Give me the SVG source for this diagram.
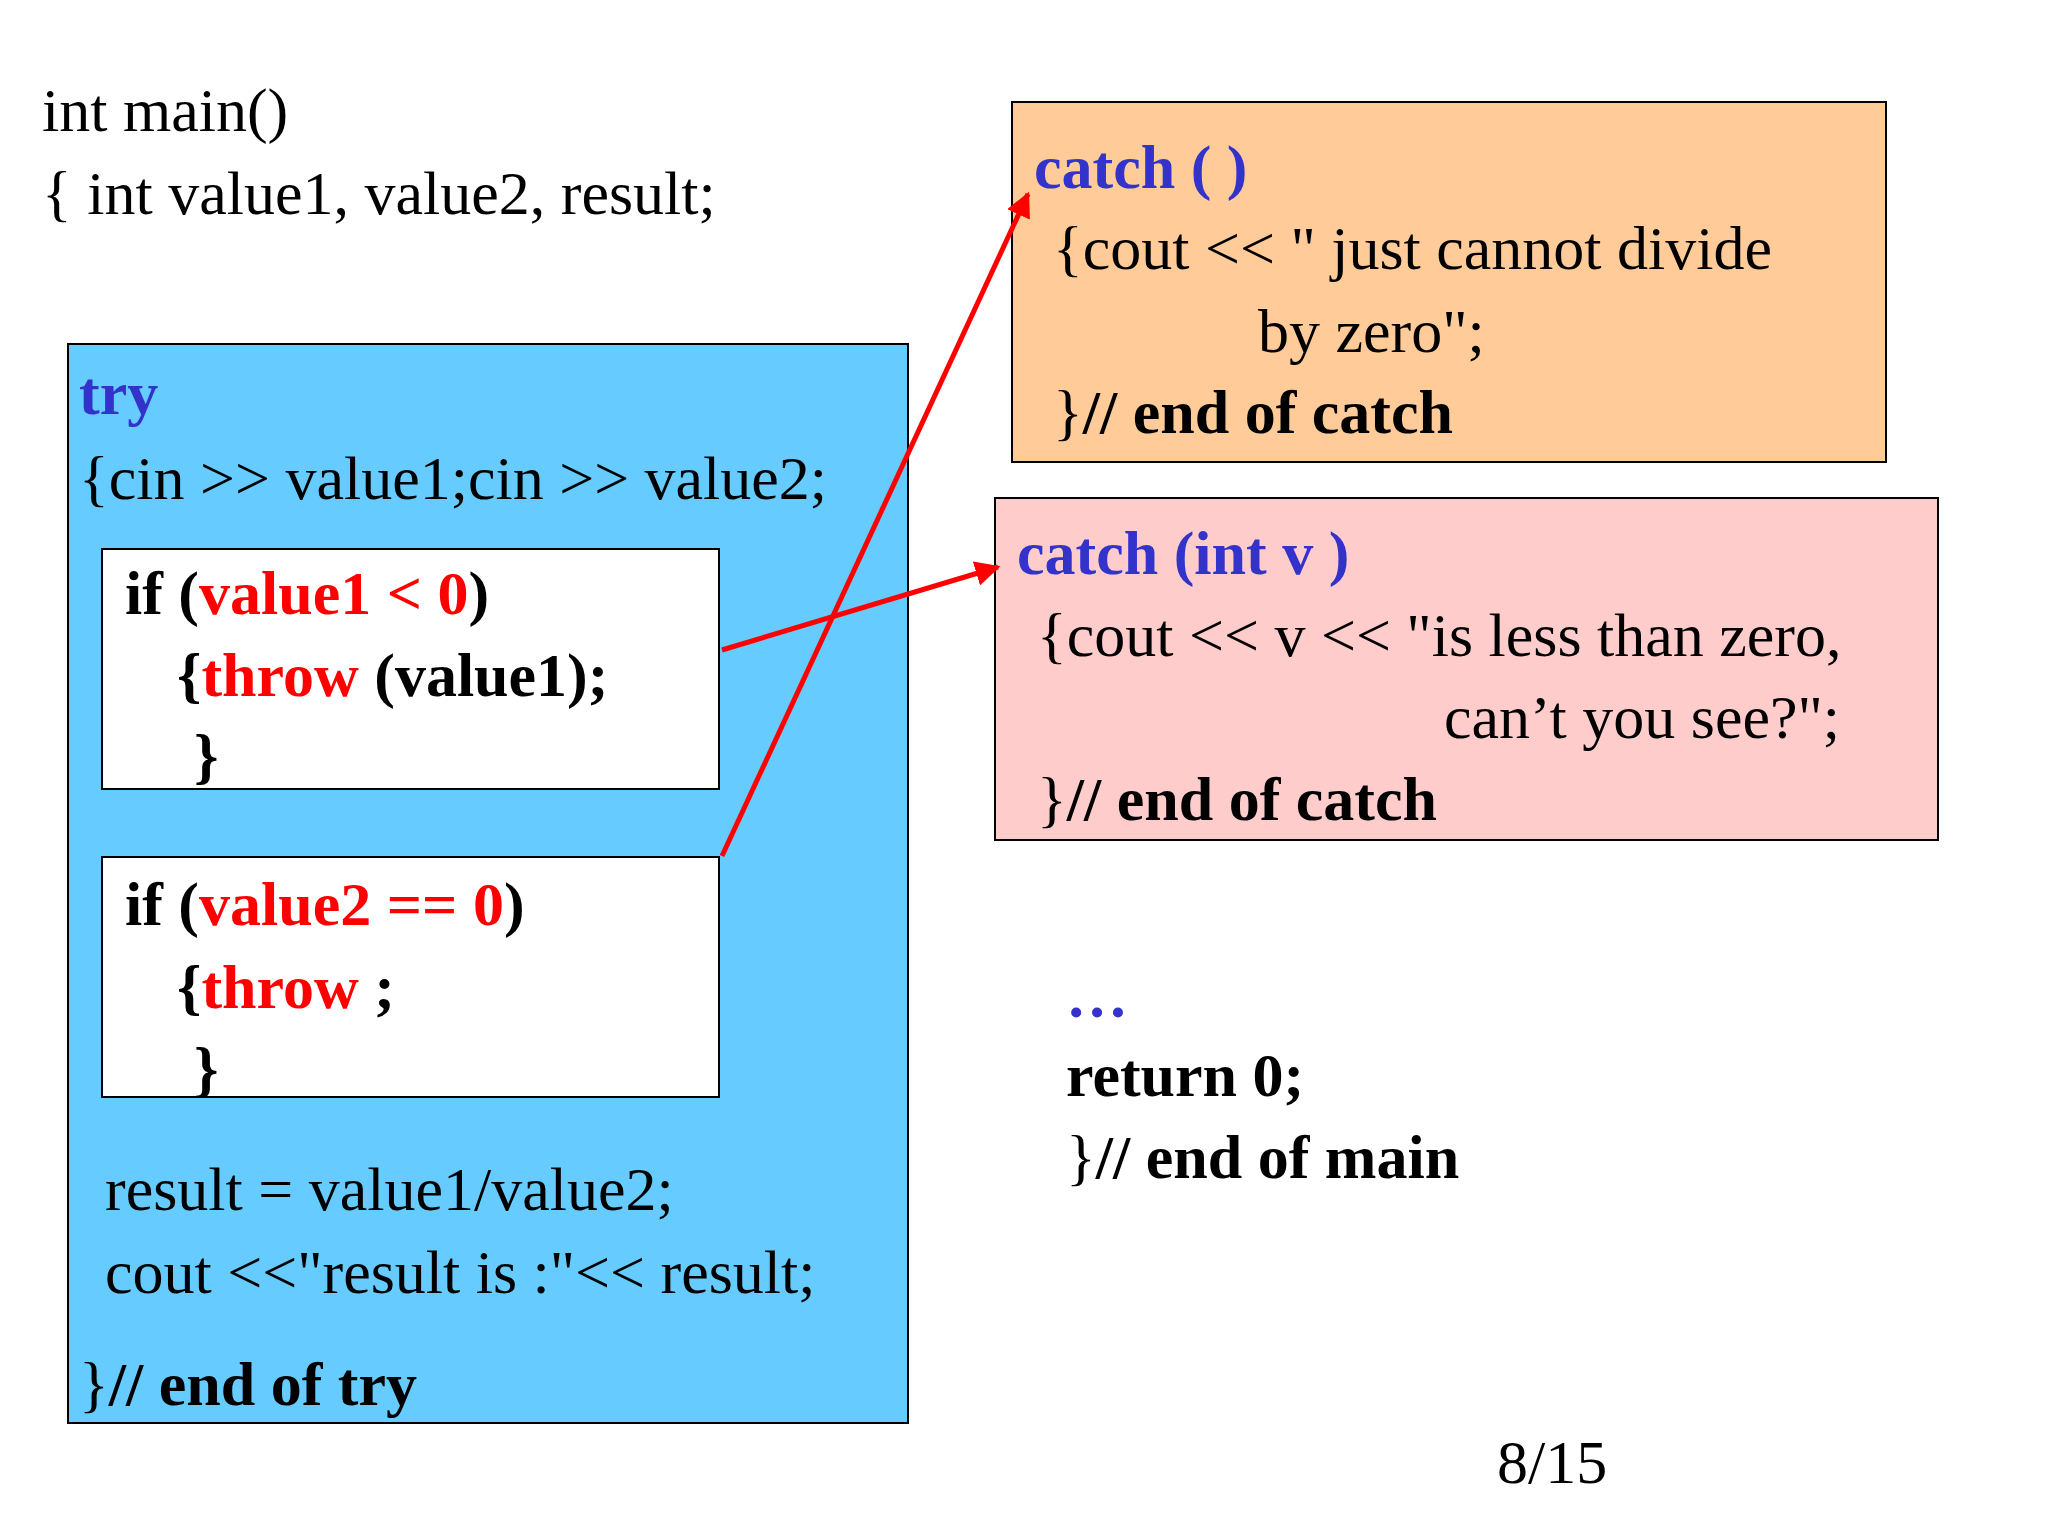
<svg xmlns="http://www.w3.org/2000/svg" width="2048" height="1536" viewBox="0 0 2048 1536">
<defs>
<style>
text{font-family:"Liberation Serif","Times New Roman",serif;font-size:62px;fill:#000}
.b{font-weight:bold}
.bl{fill:#3333CC;font-weight:bold}
.r{fill:#FF0000;font-weight:bold}
.box{stroke:#000;stroke-width:2}
.con{stroke:#FF0000;stroke-width:5;fill:none;marker-end:url(#ah)}
</style>
<marker id="ah" viewBox="0 0 10 10" refX="9" refY="5" markerWidth="5" markerHeight="5" orient="auto"><path d="M0,0 L10,5 L0,10 z" fill="#FF0000"/></marker>
</defs>
<rect width="2048" height="1536" fill="#fff"/>
<g id="main-head">
<text x="42" y="131">int main()</text>
<text x="42" y="214">{ int value1, value2, result;</text>
</g>
<g id="try-block">
<rect class="box" x="68" y="344" width="840" height="1079" fill="#66CCFF"/>
<text x="79" y="414" class="bl">try</text>
<text x="79" y="499">{cin &gt;&gt; value1;cin &gt;&gt; value2;</text>
<text x="105" y="1210">result = value1/value2;</text>
<text x="105" y="1293">cout &lt;&lt;"result is :"&lt;&lt; result;</text>
<text x="79" y="1405">}<tspan class="b">// end of try</tspan></text>
</g>
<g id="if1">
<rect class="box" x="102" y="549" width="617" height="240" fill="#fff"/>
<text x="125" y="614" class="b">if (<tspan class="r">value1 &lt; 0</tspan>)</text>
<text x="177" y="696" class="b">{<tspan class="r">throw</tspan> (value1);</text>
<text x="194" y="777" class="b">}</text>
</g>
<g id="if2">
<rect class="box" x="102" y="857" width="617" height="240" fill="#fff"/>
<text x="125" y="925" class="b">if (<tspan class="r">value2 == 0</tspan>)</text>
<text x="177" y="1008" class="b">{<tspan class="r">throw</tspan> ;</text>
<text x="194" y="1090" class="b">}</text>
</g>
<g id="catch-all">
<rect class="box" x="1012" y="102" width="874" height="360" fill="#FFCC99"/>
<text x="1034" y="188" class="bl">catch ( )</text>
<text x="1053" y="269">{cout &lt;&lt; " just cannot divide</text>
<text x="1258" y="352">by zero";</text>
<text x="1053" y="433">}<tspan class="b">// end of catch</tspan></text>
</g>
<g id="catch-int">
<rect class="box" x="995" y="498" width="943" height="342" fill="#FFCCCC"/>
<text x="1017" y="574" class="bl">catch (int v )</text>
<text x="1037" y="656">{cout &lt;&lt; v &lt;&lt; "is less than zero,</text>
<text x="1444" y="738">can’t you see?";</text>
<text x="1037" y="820">}<tspan class="b">// end of catch</tspan></text>
</g>
<g id="tail">
<text x="1066" y="1017" class="bl">…</text>
<text x="1066" y="1096" class="b">return 0;</text>
<text x="1066" y="1178">}<tspan class="b">// end of main</tspan></text>
<text x="1497" y="1483">8/15</text>
</g>
<g id="connectors">
<line class="con" x1="722" y1="650" x2="998" y2="567"/>
<line class="con" x1="722" y1="856" x2="1028" y2="194"/>
</g>
</svg>
